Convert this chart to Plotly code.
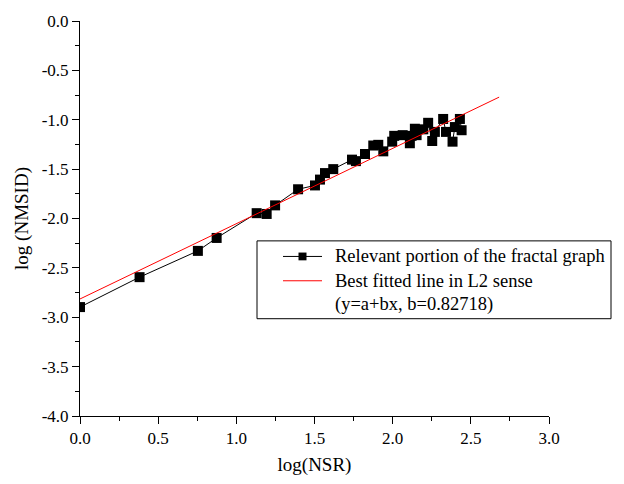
import plotly.graph_objects as go

# Data
log_nsr = [0.0, 0.381, 0.754, 0.874, 1.130, 1.194, 1.248, 1.395, 1.503, 1.535,
           1.567, 1.620, 1.740, 1.765, 1.823, 1.876, 1.908, 1.940, 1.997, 2.010,
           2.064, 2.110, 2.121, 2.142, 2.153, 2.196, 2.227, 2.253, 2.270, 2.323,
           2.341, 2.383, 2.398, 2.430, 2.441]
log_nmsid = [-2.897, -2.594, -2.328, -2.197, -1.946, -1.954, -1.867, -1.704, -1.665, -1.606,
             -1.540, -1.500, -1.404, -1.419, -1.347, -1.261, -1.254, -1.320, -1.222, -1.163,
             -1.156, -1.238, -1.163, -1.091, -1.156, -1.097, -1.031, -1.215, -1.123, -0.992,
             -1.123, -1.222, -1.074, -0.992, -1.106]

fit_x = [0.0, 2.681]
fit_y = [-2.815, -0.771]

x_tickvals = [0.0, 0.5, 1.0, 1.5, 2.0, 2.5, 3.0]
x_ticktext = ["0.0", "0.5", "1.0", "1.5", "2.0", "2.5", "3.0"]
y_tickvals = [0.0, -0.5, -1.0, -1.5, -2.0, -2.5, -3.0, -3.5, -4.0]
y_ticktext = ["0.0", "-0.5", "-1.0", "-1.5", "-2.0", "-2.5", "-3.0", "-3.5", "-4.0"]

legend_texts = ["Relevant portion of the fractal graph",
                "Best fitted line in L2 sense",
                "(y=a+bx, b=0.82718)"]

FONT = "Liberation Serif, Times New Roman, serif"

# plot-area geometry (pixels) used to place the hand-drawn legend in paper coords
W, H = 624, 484
ML, MR, MT, MB = 80, 75, 16, 62
PW, PH = W - ML - MR, H - MT - MB


def px(x):
    return (x - ML) / PW


def py(y):
    return (H - MB - y) / PH


fig = go.Figure()
fig.add_trace(go.Scatter(
    x=log_nsr, y=log_nmsid, mode="lines+markers", name=legend_texts[0],
    line=dict(color="black", width=1),
    marker=dict(symbol="square", size=10, color="black", line=dict(width=0)),
    showlegend=False,
))
fig.add_trace(go.Scatter(
    x=fit_x, y=fit_y, mode="lines", name=legend_texts[1],
    line=dict(color="red", width=1),
    showlegend=False,
))

axis_common = dict(
    showgrid=False, zeroline=False, showline=True, linecolor="black", linewidth=1,
    ticks="outside", ticklen=7, tickwidth=1, tickcolor="black",
    tickfont=dict(family=FONT, size=17, color="black"),
    mirror=False,
)

fig.update_xaxes(
    range=[0, 3], tickvals=x_tickvals, ticktext=x_ticktext,
    title=dict(text="log(NSR)", font=dict(family=FONT, size=19, color="black"), standoff=10),
    minor=dict(ticks="outside", ticklen=4, tickwidth=1, tickcolor="black", dtick=0.25, showgrid=False),
    **axis_common,
)
fig.update_yaxes(
    range=[-4, 0], tickvals=y_tickvals, ticktext=y_ticktext,
    title=dict(text="log (NMSID)", font=dict(family=FONT, size=19, color="black"), standoff=8),
    minor=dict(ticks="outside", ticklen=4, tickwidth=1, tickcolor="black", dtick=0.25, showgrid=False),
    **axis_common,
)

# Hand-drawn legend box
shapes = [
    dict(type="rect", xref="paper", yref="paper", x0=px(257), x1=px(611), y0=py(322), y1=py(242),
         line=dict(color="black", width=1), fillcolor="white", layer="above"),
    dict(type="line", xref="paper", yref="paper", x0=px(283), x1=px(322), y0=py(258), y1=py(258),
         line=dict(color="black", width=1), layer="above"),
    dict(type="rect", xref="paper", yref="paper", x0=px(298.5), x1=px(306.5), y0=py(262), y1=py(254),
         line=dict(width=0), fillcolor="black", layer="above"),
    dict(type="line", xref="paper", yref="paper", x0=px(283), x1=px(322), y0=py(283), y1=py(283),
         line=dict(color="red", width=1), layer="above"),
]
annotations = []
for txt, ypix in zip(legend_texts, [258, 283, 307]):
    annotations.append(dict(
        x=px(333), y=py(ypix), xref="paper", yref="paper", text=txt, showarrow=False,
        xanchor="left", yanchor="middle", align="left",
        font=dict(family=FONT, size=18.5, color="black"),
    ))

fig.update_layout(
    width=W, height=H,
    margin=dict(l=ML, r=MR, t=MT, b=MB),
    paper_bgcolor="white", plot_bgcolor="white",
    showlegend=False,
    shapes=shapes, annotations=annotations,
)

fig.write_html("out.html")
